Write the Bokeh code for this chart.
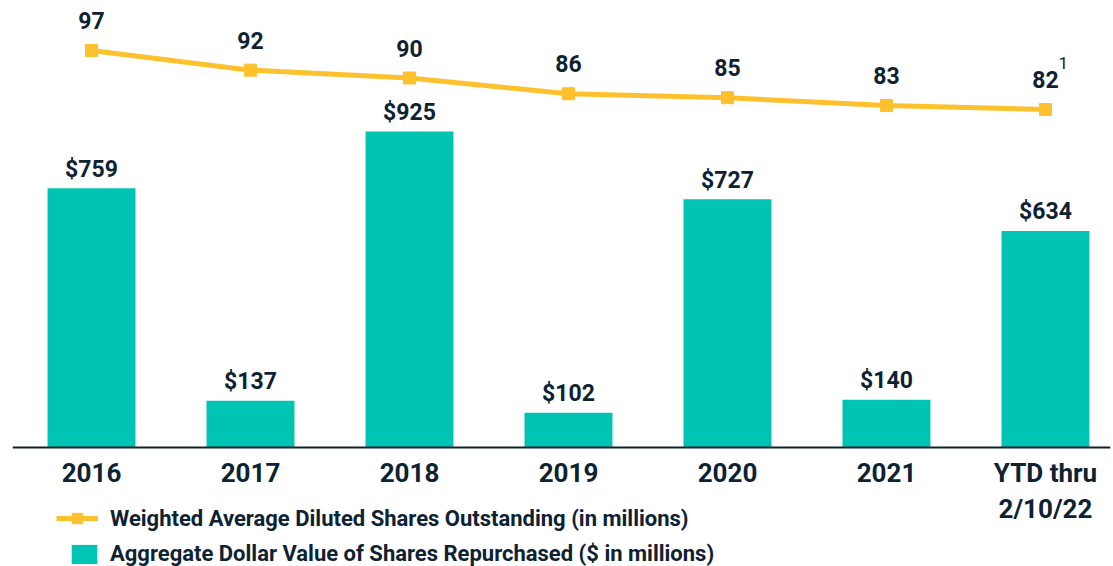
from bokeh.plotting import figure
from bokeh.models import Range1d, FixedTicker, Legend, LegendItem, ColumnDataSource
from bokeh.core.properties import value
from bokeh.embed import file_html
from bokeh.resources import INLINE

categories = ["2016", "2017", "2018", "2019", "2020", "2021", "YTD thru\n2/10/22"]
repurchased = [759, 137, 925, 102, 727, 140, 634]
shares = [97, 92, 90, 86, 85, 83, 82]
footnote = "1"

NAVY = "#0D2232"
TEAL = "#00C4B3"
GOLD = "#FDC12D"
FONT = value("Roboto")

xs = list(range(len(categories)))
bar_src = ColumnDataSource(dict(x=xs, top=repurchased,
                                label=[f"${v}" for v in repurchased]))
line_src = ColumnDataSource(dict(x=xs, y=shares, label=[str(v) for v in shares]))

p = figure(width=1113, height=566, output_backend="svg", toolbar_location=None,
           x_range=Range1d(-0.4969, 6.409), y_range=Range1d(-348.4, 1308.6),
           y_axis_location=None, min_border=0)
p.min_border_left = 12
p.min_border_right = 3
p.min_border_top = 0
p.min_border_bottom = 0
p.outline_line_color = None
p.xgrid.visible = False
p.ygrid.visible = False
p.background_fill_color = "white"
p.border_fill_color = "white"
p.extra_y_ranges = {"shares": Range1d(-34.2, 109.71)}

bars = p.vbar(x="x", top="top", bottom=0, width=0.553, source=bar_src,
              fill_color=TEAL, line_color=None)
p.text(x="x", y="top", text="label", source=bar_src, text_font=FONT,
       text_font_style="bold", text_font_size="23px", text_color=NAVY,
       text_align="center", text_baseline="alphabetic", y_offset=-19)

ln = p.line(x="x", y="y", source=line_src, y_range_name="shares",
            line_color=GOLD, line_width=5)
mk = p.scatter(x="x", y="y", source=line_src, y_range_name="shares",
               marker="square", size=12, fill_color=GOLD, line_color=GOLD)
p.text(x="x", y="y", text="label", source=line_src, y_range_name="shares",
       text_font=FONT, text_font_style="bold", text_font_size="23px",
       text_color=NAVY, text_align="center", text_baseline="alphabetic",
       y_offset=-30)
p.text(x=[xs[-1]], y=[shares[-1]], text=[footnote], y_range_name="shares",
       text_font=FONT, text_font_size="17px", text_color=NAVY,
       text_align="left", text_baseline="alphabetic", x_offset=13, y_offset=-46)

ax = p.xaxis[0]
ax.fixed_location = 0
ax.ticker = FixedTicker(ticks=xs)
ax.major_label_overrides = {i: c for i, c in zip(xs, categories)}
ax.axis_line_color = NAVY
ax.axis_line_width = 2
ax.major_tick_line_color = None
ax.minor_tick_line_color = None
ax.major_label_text_font = "Roboto"
ax.major_label_text_font_style = "bold"
ax.major_label_text_font_size = "26px"
ax.major_label_text_color = NAVY
ax.major_label_standoff = 5

leg1 = Legend(items=[LegendItem(label="Weighted Average Diluted Shares Outstanding (in millions)",
                                renderers=[ln, mk])],
              location=(44, 35), glyph_width=42, glyph_height=26, label_height=26,
              label_standoff=12, margin=0, padding=0, border_line_color=None,
              background_fill_alpha=0, label_text_font="Roboto",
              label_text_font_style="bold", label_text_font_size="22px",
              label_text_color=NAVY)
leg2 = Legend(items=[LegendItem(label="Aggregate Dollar Value of Shares Repurchased ($ in millions)",
                                renderers=[bars])],
              location=(56, 0), glyph_width=32, glyph_height=24, label_height=24,
              label_standoff=10, margin=0, padding=0, border_line_color=None,
              background_fill_alpha=0, label_text_font="Roboto",
              label_text_font_style="bold", label_text_font_size="22px",
              label_text_color=NAVY)
p.add_layout(leg1, "center")
p.add_layout(leg2, "center")

open("out.html", "w").write(file_html(p, INLINE))
